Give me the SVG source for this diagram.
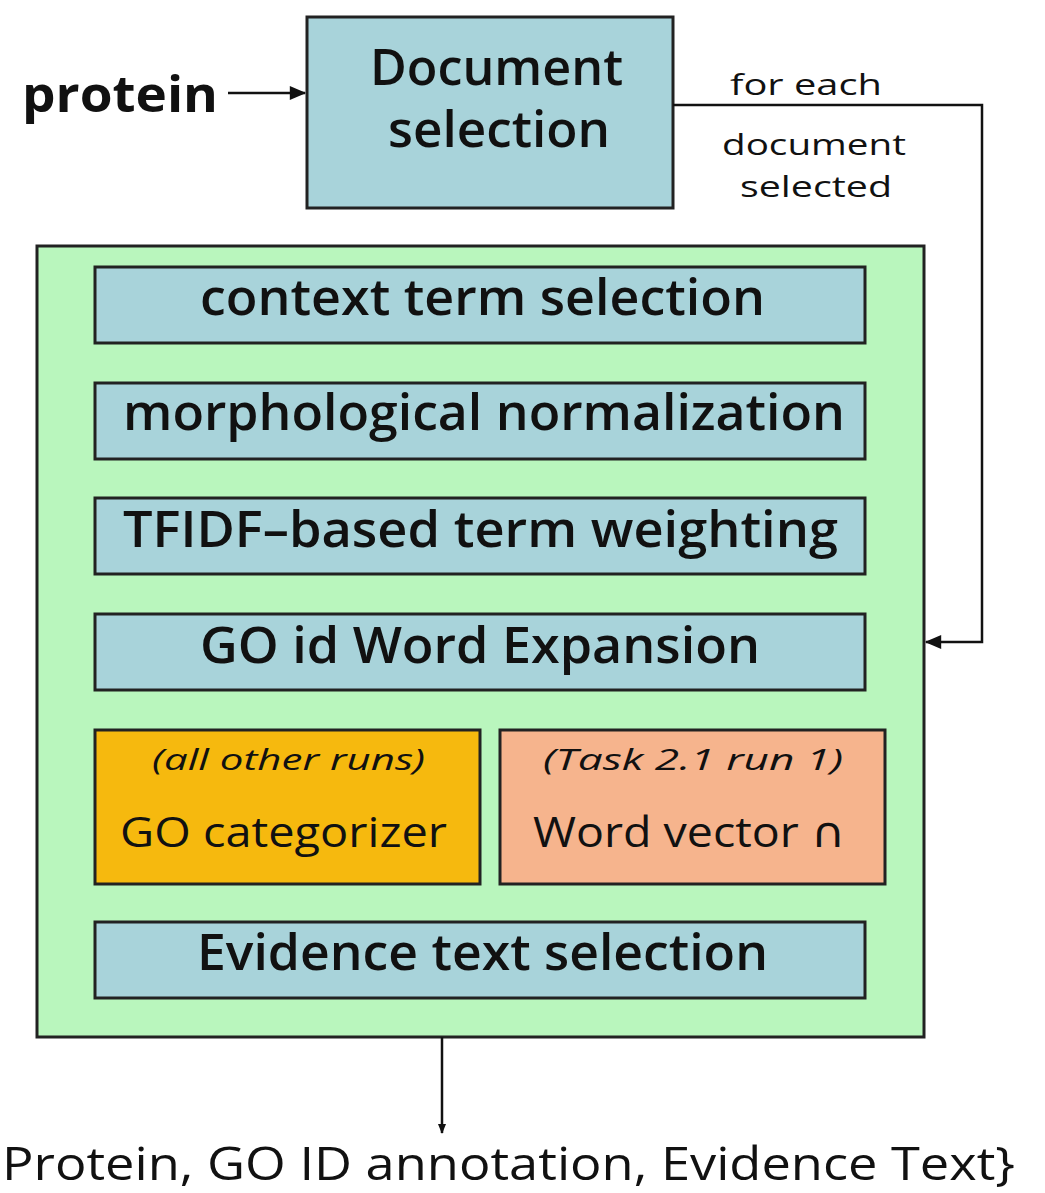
<svg xmlns="http://www.w3.org/2000/svg" width="1045" height="1193" viewBox="0 0 1045 1193">
  <defs>
    <marker id="arrow" viewBox="0 0 10 10" refX="9" refY="5" markerWidth="10" markerHeight="12" markerUnits="userSpaceOnUse" orient="auto">
      <path d="M0,1 L10,5 L0,9 Z" fill="#111"/>
    </marker>
    <marker id="arrowBig" viewBox="0 0 14 12" refX="13" refY="6" markerWidth="18" markerHeight="14" markerUnits="userSpaceOnUse" orient="auto">
      <path d="M0,0 L14,6 L0,12 Z" fill="#111"/>
    </marker>
  </defs>
  <style>
    text { font-family: "Open Sans", "DejaVu Sans", sans-serif; fill: #111; }
    .step { fill: #a8d3da; stroke: #222; stroke-width: 3; }
    .big { font-size: 50px; font-weight: 600; }
    .note { font-size: 29px; }
    .edge { fill: none; stroke: #111; stroke-width: 2.5; }
  </style>
  <rect width="1045" height="1193" fill="#ffffff"/>

  <text x="22" y="112" font-size="50" font-weight="700" textLength="196" lengthAdjust="spacingAndGlyphs">protein</text>

  <g id="doc-selection">
    <rect class="step" x="307" y="17" width="366" height="191"/>
    <text class="big" x="370" y="85" font-size="44" textLength="253" lengthAdjust="spacingAndGlyphs">Document</text>
    <text class="big" x="388" y="147" font-size="44" textLength="222" lengthAdjust="spacingAndGlyphs">selection</text>
  </g>

  <text class="note" x="730" y="95" textLength="152" lengthAdjust="spacingAndGlyphs">for each</text>
  <text class="note" x="722" y="155" textLength="184" lengthAdjust="spacingAndGlyphs">document</text>
  <text class="note" x="740" y="197" textLength="152" lengthAdjust="spacingAndGlyphs">selected</text>

  <g id="pipeline">
    <rect x="37" y="246" width="887" height="791" fill="#b9f6bd" stroke="#222" stroke-width="3"/>
  </g>

  <g id="context-term">
    <rect class="step" x="95" y="267" width="770" height="76"/>
    <text class="big" x="200" y="315" textLength="565" lengthAdjust="spacingAndGlyphs">context term selection</text>
  </g>
  <g id="morph-norm">
    <rect class="step" x="95" y="383" width="770" height="76"/>
    <text class="big" x="123" y="430" textLength="722" lengthAdjust="spacingAndGlyphs">morphological normalization</text>
  </g>
  <g id="tfidf">
    <rect class="step" x="95" y="498" width="770" height="76"/>
    <text class="big" x="123" y="547" textLength="715" lengthAdjust="spacingAndGlyphs">TFIDF–based term weighting</text>
  </g>
  <g id="go-expansion">
    <rect class="step" x="95" y="614" width="770" height="76"/>
    <text class="big" x="200" y="663" textLength="560" lengthAdjust="spacingAndGlyphs">GO id Word Expansion</text>
  </g>

  <g id="go-categorizer">
    <rect x="95" y="730" width="385" height="154" fill="#f6b90e" stroke="#222" stroke-width="3"/>
    <text x="152" y="770" font-size="30" font-style="italic" textLength="273" lengthAdjust="spacingAndGlyphs">(all other runs)</text>
    <text x="120" y="847" font-size="42" textLength="327" lengthAdjust="spacingAndGlyphs">GO categorizer</text>
  </g>
  <g id="word-vector">
    <rect x="500" y="730" width="385" height="154" fill="#f6b48d" stroke="#222" stroke-width="3"/>
    <text x="543" y="770" font-size="30" font-style="italic" textLength="300" lengthAdjust="spacingAndGlyphs">(Task 2.1 run 1)</text>
    <text x="533" y="847" font-size="42" textLength="312" lengthAdjust="spacingAndGlyphs">Word vector ∩</text>
  </g>

  <g id="evidence">
    <rect class="step" x="95" y="922" width="770" height="76"/>
    <text class="big" x="197" y="970" textLength="571" lengthAdjust="spacingAndGlyphs">Evidence text selection</text>
  </g>

  <g id="connectors">
    <path class="edge" d="M228,93 L305,93" marker-end="url(#arrowBig)"/>
    <path class="edge" d="M673,105 L982,105 L982,642 L926,642" marker-end="url(#arrowBig)"/>
    <path class="edge" d="M442,1037 L442,1133" marker-end="url(#arrow)"/>
  </g>

  <text x="2" y="1180" font-size="46" textLength="1013" lengthAdjust="spacingAndGlyphs">Protein, GO ID annotation, Evidence Text}</text>
</svg>
